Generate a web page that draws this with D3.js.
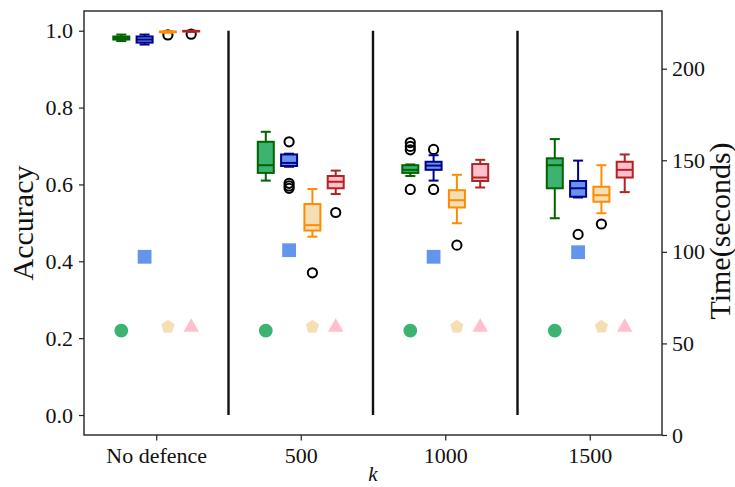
<!DOCTYPE html>
<html>
<head>
<meta charset="utf-8">
<script src="https://cdn.jsdelivr.net/npm/d3@7"></script>
<style>
  html, body { margin: 0; padding: 0; background: #fff; }
  svg { display: block; }
  text { font-family: "Liberation Serif", "Times New Roman", serif; fill: #111; }
</style>
</head>
<body>
<svg id="chart" width="735" height="487"></svg>
<script>
// ---------------- data ----------------
const categories = ["No defence", "500", "1000", "1500"];
const accTicks = [0.0, 0.2, 0.4, 0.6, 0.8, 1.0];
const timeTicks = [0, 50, 100, 150, 200];

// box stats per group: [whiskerLow, q1, median, q3, whiskerHigh]
const greenBoxes = [
  [0.973, 0.977, 0.981, 0.985, 0.990],
  [0.610, 0.630, 0.650, 0.711, 0.737],
  [0.622, 0.630, 0.638, 0.650, 0.652],
  [0.512, 0.590, 0.650, 0.668, 0.718]
];
const greenOutliers = [[], [], [0.709, 0.699, 0.690, 0.587], []];

const blueBoxes = [
  [0.964, 0.969, 0.977, 0.985, 0.990],
  [0.646, 0.648, 0.656, 0.678, 0.680],
  [0.610, 0.638, 0.649, 0.659, 0.676],
  [0.566, 0.568, 0.590, 0.609, 0.662]
];
const blueOutliers = [[], [0.711, 0.603, 0.596, 0.590], [0.691, 0.587], [0.470]];

const orangeBoxes = [
  [0.995, 0.996, 0.997, 0.998, 0.999],
  [0.464, 0.480, 0.494, 0.549, 0.588],
  [0.499, 0.540, 0.559, 0.585, 0.625],
  [0.525, 0.555, 0.572, 0.594, 0.650]
];
const orangeOutliers = [[0.989], [0.370], [0.442], [0.497]];

const redBoxes = [
  [0.997, 0.998, 0.999, 0.9995, 1.000],
  [0.575, 0.590, 0.607, 0.622, 0.636],
  [0.592, 0.609, 0.618, 0.653, 0.664],
  [0.580, 0.618, 0.638, 0.659, 0.678]
];
const redOutliers = [[0.991], [0.527], [], []];

// time (seconds) markers per group
const circleTime   = [57.0, 57.0, 57.0, 57.0];
const squareTime   = [97.3, 100.9, 97.3, 99.8];
const pentagonTime = [59.1, 59.1, 59.1, 59.1];
const triangleTime = [58.8, 58.8, 58.8, 58.8];

// ---------------- layout / styles ----------------
const plot = { left: 84, right: 662, top: 11, bottom: 435 };
const series = [
  { boxes: greenBoxes,  outliers: greenOutliers,  edge: "#006400", fill: "#3CB371" },
  { boxes: blueBoxes,   outliers: blueOutliers,   edge: "#00008B", fill: "#6495ED" },
  { boxes: orangeBoxes, outliers: orangeOutliers, edge: "#FF8C00", fill: "#F5DEB3" },
  { boxes: redBoxes,    outliers: redOutliers,    edge: "#B22222", fill: "#FFC0CB" }
];
const markers = [
  { values: circleTime,   type: d3.symbolCircle,   color: "#3CB371", size: 150, slot: 0 },
  { values: squareTime,   type: d3.symbolSquare,   color: "#6495ED", size: 190, slot: 1 },
  { values: pentagonTime, type: "pentagon",        color: "#F5DEB3", size: 0,   slot: 2 },
  { values: triangleTime, type: d3.symbolTriangle, color: "#FFC0CB", size: 105, slot: 3 }
];

const svg = d3.select("#chart");

const x = d3.scaleLinear().domain([-0.5, 3.5]).range([plot.left, plot.right]);
const yAcc = d3.scaleLinear().domain([-0.052, 1.0513]).range([plot.bottom, plot.top]);
const yTime = d3.scaleLinear().domain([0, 231.5]).range([plot.bottom, plot.top]);

const slotStep = 0.1613;
const slotX = (g, j) => x(g + (j - 1.5) * slotStep);
const boxW = 16, capW = 10;

// separators
svg.append("g").selectAll("line")
  .data([0.5, 1.5, 2.5])
  .join("line")
  .attr("x1", d => x(d)).attr("x2", d => x(d))
  .attr("y1", yAcc(0)).attr("y2", yAcc(1))
  .attr("stroke", "#111").attr("stroke-width", 2.4);

// boxes
const gBoxes = svg.append("g");
series.forEach((s, j) => {
  s.boxes.forEach((b, g) => {
    const cx = slotX(g, j);
    const grp = gBoxes.append("g");
    grp.selectAll("circle")
      .data(s.outliers[g])
      .join("circle")
      .attr("cx", cx).attr("cy", d => yAcc(d)).attr("r", 4.6)
      .attr("fill", "none").attr("stroke", "#000").attr("stroke-width", 2);
    const [wl, q1, med, q3, wh] = b;
    grp.append("line").attr("x1", cx).attr("x2", cx).attr("y1", yAcc(q3)).attr("y2", yAcc(wh))
      .attr("stroke", s.edge).attr("stroke-width", 2);
    grp.append("line").attr("x1", cx).attr("x2", cx).attr("y1", yAcc(q1)).attr("y2", yAcc(wl))
      .attr("stroke", s.edge).attr("stroke-width", 2);
    [wl, wh].forEach(v => {
      grp.append("line").attr("x1", cx - capW / 2).attr("x2", cx + capW / 2)
        .attr("y1", yAcc(v)).attr("y2", yAcc(v))
        .attr("stroke", s.edge).attr("stroke-width", 2);
    });
    grp.append("rect")
      .attr("x", cx - boxW / 2).attr("width", boxW)
      .attr("y", yAcc(q3)).attr("height", Math.max(0.01, yAcc(q1) - yAcc(q3)))
      .attr("fill", s.fill).attr("stroke", s.edge).attr("stroke-width", 2);
    grp.append("line").attr("x1", cx - boxW / 2).attr("x2", cx + boxW / 2)
      .attr("y1", yAcc(med)).attr("y2", yAcc(med))
      .attr("stroke", s.edge).attr("stroke-width", 2);
  });
});

// time markers
function pentagonPath(r) {
  const pts = d3.range(5).map(i => {
    const a = -Math.PI / 2 + i * 2 * Math.PI / 5;
    return [r * Math.cos(a), r * Math.sin(a)];
  });
  return "M" + pts.map(p => p.join(",")).join("L") + "Z";
}
const gMarks = svg.append("g");
markers.forEach(m => {
  gMarks.selectAll(null)
    .data(m.values)
    .join("path")
    .attr("transform", (d, g) => `translate(${slotX(g, m.slot)},${yTime(d)})`)
    .attr("d", m.type === "pentagon" ? pentagonPath(7) : d3.symbol().type(m.type).size(m.size)())
    .attr("fill", m.color);
});

// frame
svg.append("rect")
  .attr("x", plot.left).attr("y", plot.top)
  .attr("width", plot.right - plot.left).attr("height", plot.bottom - plot.top)
  .attr("fill", "none").attr("stroke", "#222").attr("stroke-width", 1.4);

// axes
const tickFont = 22;
const axL = svg.append("g").attr("transform", `translate(${plot.left},0)`)
  .call(d3.axisLeft(yAcc).tickValues(accTicks).tickFormat(d3.format(".1f")).tickSize(5).tickPadding(6));
const axR = svg.append("g").attr("transform", `translate(${plot.right},0)`)
  .call(d3.axisRight(yTime).tickValues(timeTicks).tickFormat(d3.format("d")).tickSize(5).tickPadding(5));
const axB = svg.append("g").attr("transform", `translate(0,${plot.bottom})`)
  .call(d3.axisBottom(x).tickValues([0, 1, 2, 3]).tickFormat((d, i) => categories[i]).tickSize(5.5).tickPadding(8));
[axL, axR, axB].forEach(a => {
  a.select(".domain").remove();
  a.selectAll(".tick line").attr("stroke", "#222").attr("stroke-width", 1.2);
  a.selectAll(".tick text").attr("font-size", tickFont).attr("fill", "#111")
    .style("font-family", '"Liberation Serif", serif');
});
axB.selectAll(".tick text").attr("dy", null).attr("y", 28);

// axis labels
svg.append("text")
  .attr("transform", `translate(33,${(plot.top + plot.bottom) / 2}) rotate(-90)`)
  .attr("text-anchor", "middle").attr("font-size", 30).text("Accuracy");
svg.append("text")
  .attr("transform", `translate(730,231) rotate(-90)`)
  .attr("text-anchor", "middle").attr("font-size", 30).text("Time(seconds)");
svg.append("text")
  .attr("x", (plot.left + plot.right) / 2).attr("y", 481)
  .attr("text-anchor", "middle").attr("font-size", 21).attr("font-style", "italic").text("k");
</script>
</body>
</html>
